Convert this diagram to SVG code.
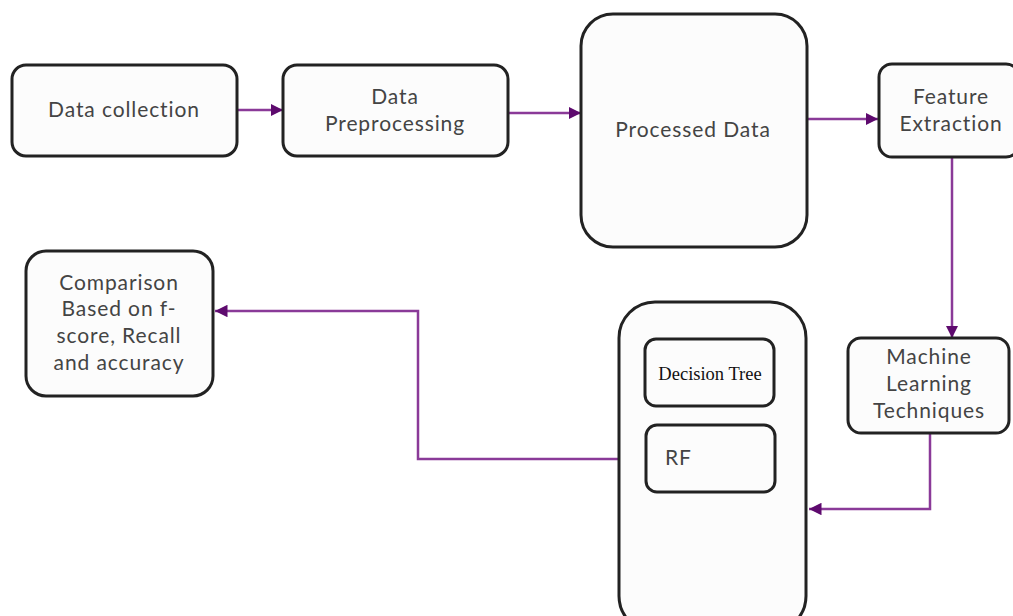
<svg xmlns="http://www.w3.org/2000/svg" width="1013" height="616" viewBox="0 0 1013 616">
<style>
.box{fill:#fcfcfc;stroke:#222;stroke-width:3}
.t{font-family:"Lato","Noto Sans",sans-serif;font-size:21px;fill:#444;text-anchor:middle;letter-spacing:0.9px}
.c{fill:none;stroke:#8a3a98;stroke-width:2.5}
</style>
<defs>
<marker id="ah" viewBox="0 0 10 10" refX="10" refY="5" markerWidth="5" markerHeight="5" orient="auto" markerUnits="strokeWidth">
<path d="M0,0 L10,5 L0,10 z" fill="#5e0a6e"/>
</marker>
</defs>
<rect width="1013" height="616" fill="#fff"/>
<g id="connectors">
<path class="c" d="M237,110 H283" marker-end="url(#ah)"/>
<path class="c" d="M508,113 H581" marker-end="url(#ah)"/>
<path class="c" d="M807,119 H878" marker-end="url(#ah)"/>
<path class="c" d="M952,157 V338" marker-end="url(#ah)"/>
<path class="c" d="M930,433 V509 H809" marker-end="url(#ah)"/>
<path class="c" d="M619,459 H418 V311 H215" marker-end="url(#ah)"/>
</g>
<g id="data-collection">
<rect class="box" x="12" y="65" width="225" height="91" rx="14"/>
<text class="t" x="124" y="117">Data collection</text>
</g>
<g id="data-preprocessing">
<rect class="box" x="283" y="65" width="225" height="91" rx="14"/>
<text class="t" x="395" y="104">Data</text>
<text class="t" x="395" y="131">Preprocessing</text>
</g>
<g id="processed-data">
<rect class="box" x="581" y="14" width="226" height="233" rx="32"/>
<text class="t" x="693" y="137">Processed Data</text>
</g>
<g id="feature-extraction">
<rect class="box" x="879" y="64" width="140" height="93" rx="13"/>
<text class="t" x="951" y="104">Feature</text>
<text class="t" x="951" y="131">Extraction</text>
</g>
<g id="ml-techniques">
<rect class="box" x="848" y="338" width="161" height="95" rx="13"/>
<text class="t" x="929" y="364">Machine</text>
<text class="t" x="929" y="391">Learning</text>
<text class="t" x="929" y="418">Techniques</text>
</g>
<g id="models">
<rect class="box" x="619" y="302" width="187" height="330" rx="36"/>
</g>
<g id="decision-tree">
<rect class="box" x="645" y="339" width="129" height="67" rx="11"/>
<text x="710" y="380" font-family="Liberation Serif,serif" font-size="18.5" fill="#111" text-anchor="middle">Decision Tree</text>
</g>
<g id="rf">
<rect class="box" x="646" y="425" width="129" height="67" rx="11"/>
<text class="t" x="665" y="465" style="text-anchor:start">RF</text>
</g>
<g id="comparison">
<rect class="box" x="26" y="251" width="187" height="145" rx="20"/>
<text class="t" x="119" y="290">Comparison</text>
<text class="t" x="119" y="316">Based on f-</text>
<text class="t" x="119" y="343">score, Recall</text>
<text class="t" x="119" y="370">and accuracy</text>
</g>
</svg>
